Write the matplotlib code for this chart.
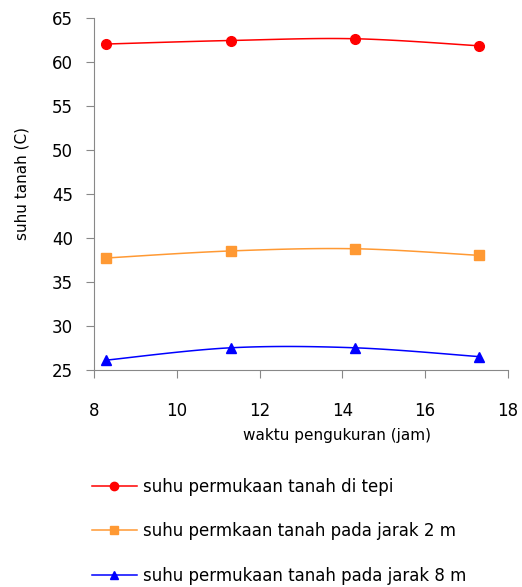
import numpy as np
import matplotlib.pyplot as plt
from matplotlib.lines import Line2D

# =====================
# Data
# =====================
jam = [8.3, 11.3, 14.3, 17.3]
suhu_tepi = [62.0, 62.4, 62.6, 61.8]
suhu_2m = [37.7, 38.5, 38.75, 38.0]
suhu_8m = [26.1, 27.5, 27.5, 26.5]

labels = [
    "suhu permukaan tanah di tepi",
    "suhu permkaan tanah pada jarak 2 m",
    "suhu permukaan tanah pada jarak 8 m",
]
colors = ["#ff0000", "#ff9933", "#0000ff"]
markers = ["o", "s", "^"]


# Excel-like smoothed line (Catmull-Rom)
def smooth(x, y, n=30):
    x = np.asarray(x, float)
    y = np.asarray(y, float)
    px = np.concatenate([[x[0]], x, [x[-1]]])
    py = np.concatenate([[y[0]], y, [y[-1]]])
    xs, ys = [], []
    t = np.linspace(0, 1, n)
    for i in range(1, len(px) - 2):
        for arr, out in ((px, xs), (py, ys)):
            p0, p1, p2, p3 = arr[i - 1], arr[i], arr[i + 1], arr[i + 2]
            out.extend(0.5 * ((2 * p1) + (-p0 + p2) * t
                              + (2 * p0 - 5 * p1 + 4 * p2 - p3) * t ** 2
                              + (-p0 + 3 * p1 - 3 * p2 + p3) * t ** 3))
    return xs, ys


fig = plt.figure(figsize=(5.22, 5.87), dpi=100)
ax = fig.add_axes([0.180, 0.370, 0.793, 0.600])

handles = []
for ys, c, m in zip([suhu_tepi, suhu_2m, suhu_8m], colors, markers):
    sx, sy = smooth(jam, ys)
    ax.plot(sx, sy, color=c, lw=1.1, zorder=2)
    ax.plot(jam, ys, ls="none", marker=m, color=c, ms=7, zorder=3)
    handles.append(Line2D([], [], color=c, lw=1.1, marker=m, ms=6))

ax.set_xlim(8, 18)
ax.set_ylim(25, 65)
ax.set_xticks(range(8, 19, 2))
ax.set_yticks(range(25, 66, 5))
for s in ["top", "right"]:
    ax.spines[s].set_visible(False)
for s in ["left", "bottom"]:
    ax.spines[s].set_color("#888888")
ax.tick_params(colors="#888888", labelcolor="black", labelsize=12, length=6, direction="out")
ax.tick_params(axis="y", pad=9)
ax.tick_params(axis="x", pad=17)

ax.set_xlabel("waktu pengukuran (jam)", fontsize=11)
ax.xaxis.set_label_coords(0.587, -0.1875)
ax.xaxis.label.set_va("center")
ax.set_ylabel("suhu tanah (C)", fontsize=11)
ax.yaxis.set_label_coords(-0.174, 0.528)
ax.yaxis.label.set_va("center")

fig.legend(handles, labels, loc="upper left", bbox_to_anchor=(0.176, 0.1865),
           frameon=False, fontsize=12, handlelength=2.7, handletextpad=0.36,
           labelspacing=1.6, borderpad=0, borderaxespad=0)

fig.savefig("out.png", dpi=100)
